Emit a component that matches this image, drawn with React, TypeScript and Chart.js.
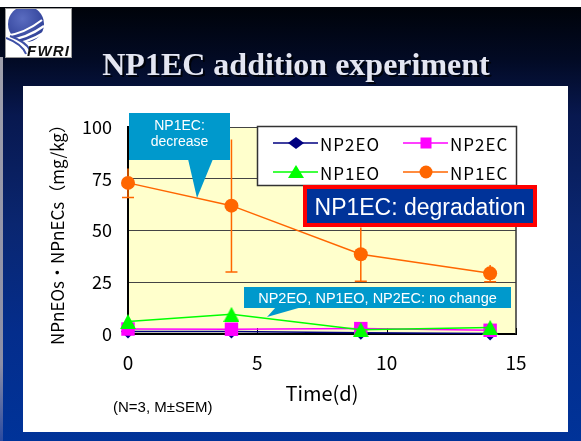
import React, { useEffect, useRef } from "react";
import { Chart, registerables } from "chart.js";

Chart.register(...registerables);

// ---- data ----
const days = [0, 4, 9, 14];
const np2eo = [1.2, 1.2, 0.6, 0.2];
const np2ec = [2.4, 2.3, 2.6, 1.8];
const np1eo = [6.0, 9.5, 2.1, 3.2];
const np1ec = [73, 62, 38.5, 29.3];
const np1ecSem = [7, 32, 13, 4];
const xTicks = [0, 5, 10, 15];
const yTicks = [0, 25, 50, 75, 100];

const seriesNames = ["NP2EO", "NP2EC", "NP1EO", "NP1EC"];
const seriesColors = ["#000080", "#FF00FF", "#00FF00", "#FF6600"];
const seriesMarkers = ["diamond", "square", "triangle", "circle"];

const titleText = "NP1EC addition experiment";
const yTitle = "NPnEOs・NPnECs（mg/kg）";
const xTitle = "Time(d)";
const note = "(N=3, M±SEM)";
const callout1 = ["NP1EC:", "decrease"];
const callout2 = "NP2EO, NP1EO, NP2EC: no change";
const boxText = "NP1EC: degradation";

const JP = "'Noto Sans CJK JP', 'Noto Sans', sans-serif";
const ARIAL = "'Liberation Sans', Arial, sans-serif";

const slidePlugin = {
  id: "slideDecor",
  beforeDraw(chart: any) {
    const { ctx, chartArea: a } = chart;
    ctx.save();
    ctx.fillStyle = "#FFFFCC";
    ctx.fillRect(a.left, a.top, a.right - a.left, a.bottom - a.top);
    ctx.restore();
  },
  beforeDatasetsDraw(chart: any) {
    const { ctx, chartArea: a, scales } = chart;
    const x = scales.x;
    const y = scales.y;
    ctx.save();
    // right border
    ctx.strokeStyle = "#333";
    ctx.lineWidth = 1.5;
    ctx.beginPath();
    ctx.moveTo(a.right, a.top);
    ctx.lineTo(a.right, a.bottom);
    ctx.stroke();
    // inner tick marks on x axis
    ctx.strokeStyle = "#000";
    ctx.lineWidth = 1;
    ctx.beginPath();
    xTicks.forEach((v) => {
      const px = Math.round(x.getPixelForValue(v)) + 0.5;
      ctx.moveTo(px, a.bottom);
      ctx.lineTo(px, a.bottom - 6);
    });
    ctx.stroke();
    // error bars for NP1EC
    ctx.strokeStyle = "#FF6600";
    ctx.lineWidth = 1.5;
    ctx.beginPath();
    days.forEach((d, i) => {
      const px = x.getPixelForValue(d);
      const top = y.getPixelForValue(np1ec[i] + np1ecSem[i]);
      const bot = y.getPixelForValue(np1ec[i] - np1ecSem[i]);
      ctx.moveTo(px, top);
      ctx.lineTo(px, bot);
      ctx.moveTo(px - 6, bot);
      ctx.lineTo(px + 6, bot);
    });
    ctx.stroke();
    ctx.restore();
  },
};

function LegendMarker({ kind, cx, cy, color }: { kind: string; cx: number; cy: number; color: string }) {
  if (kind === "diamond")
    return <polygon points={`${cx - 8},${cy} ${cx},${cy - 6} ${cx + 8},${cy} ${cx},${cy + 6}`} fill={color} />;
  if (kind === "square") return <rect x={cx - 5.5} y={cy - 5.5} width={11} height={11} fill={color} />;
  if (kind === "triangle")
    return <polygon points={`${cx},${cy - 7} ${cx + 8},${cy + 6} ${cx - 8},${cy + 6}`} fill={color} />;
  return <circle cx={cx} cy={cy} r={6.5} fill={color} />;
}

export default function App() {
  const ref = useRef<HTMLCanvasElement>(null);

  useEffect(() => {
    document.body.style.margin = "0";
    const canvas = ref.current!;
    const tri = document.createElement("canvas");
    tri.width = 16;
    tri.height = 15;
    const tctx = tri.getContext("2d")!;
    tctx.fillStyle = "#00FF00";
    tctx.beginPath();
    tctx.moveTo(8, 0);
    tctx.lineTo(16, 15);
    tctx.lineTo(0, 15);
    tctx.closePath();
    tctx.fill();

    const pts = (arr: number[]) => days.map((d, i) => ({ x: d, y: arr[i] }));
    const values = [np2eo, np2ec, np1eo, np1ec];
    const styles: any[] = ["rectRot", "rect", tri, "circle"];
    const radii = [7, 9.5, 8, 7];
    const orders = [2, 1, 0, 3];

    const chart = new Chart(canvas, {
      type: "line",
      data: {
        datasets: seriesNames.map((name, i) => ({
          label: name,
          data: pts(values[i]),
          borderColor: seriesColors[i],
          backgroundColor: seriesColors[i],
          pointBackgroundColor: seriesColors[i],
          pointBorderColor: seriesColors[i],
          pointBorderWidth: 0,
          pointStyle: styles[i],
          pointRadius: radii[i],
          borderWidth: 1.5,
          tension: 0,
          fill: false,
          order: orders[i],
          clip: false as any,
        })),
      },
      options: {
        animation: false,
        responsive: false,
        events: [],
        layout: { padding: { top: 127, right: 65, bottom: 0, left: 0 } },
        plugins: { legend: { display: false }, tooltip: { enabled: false } },
        scales: {
          x: {
            type: "linear",
            min: 0,
            max: 15,
            afterFit: (s: any) => {
              s.height = 107;
            },
            afterBuildTicks: (s: any) => {
              s.ticks = xTicks.map((v) => ({ value: v }));
            },
            ticks: { padding: 17, color: "#000", font: { family: JP, size: 19 } },
            grid: { display: true, drawOnChartArea: false, drawTicks: false },
            border: { display: true, color: "#000", width: 2 },
            title: {
              display: true,
              text: xTitle,
              color: "#000",
              font: { family: JP, size: 20 },
              padding: { top: 0, bottom: 36 },
            },
          },
          y: {
            type: "linear",
            min: 0,
            max: 100,
            afterFit: (s: any) => {
              s.width = 128;
            },
            afterBuildTicks: (s: any) => {
              s.ticks = yTicks.map((v) => ({ value: v }));
            },
            ticks: { padding: 16, color: "#000", font: { family: JP, size: 18 } },
            grid: { display: true, drawOnChartArea: true, drawTicks: false, color: "#444", lineWidth: 1 },
            border: { display: true, color: "#000", width: 2 },
            title: {
              display: true,
              text: yTitle,
              color: "#000",
              font: { family: JP, size: 17 },
              padding: { top: 47, bottom: 0 },
            },
          },
        },
      } as any,
      plugins: [slidePlugin],
    });
    return () => chart.destroy();
  }, []);

  return (
    <div
      style={{
        position: "fixed",
        left: 0,
        top: 0,
        width: 581,
        height: 441,
        overflow: "hidden",
        background: "#fff",
      }}
    >
      <div
        style={{
          position: "absolute",
          left: 0,
          top: 7,
          width: 581,
          height: 434,
          background:
            "linear-gradient(to bottom, #00030a 0%, #020a24 12%, #08184f 25%, #0a2670 50%, #042d8c 75%, #003399 100%)",
        }}
      />
      <div
        style={{
          position: "absolute",
          left: 0,
          top: 57,
          width: 3,
          height: 384,
          background: "linear-gradient(to bottom, #a0a0ac 0%, #8c8ea6 80%, #2a4aa0 100%)",
        }}
      />
      <div
        style={{ position: "absolute", left: 23, top: 86, width: 545, height: 346, background: "#fff" }}
      />
      <canvas
        ref={ref}
        width={581}
        height={441}
        style={{ position: "absolute", left: 0, top: 0, width: 581, height: 441 }}
      />
      <svg
        width={581}
        height={441}
        style={{ position: "absolute", left: 0, top: 0, pointerEvents: "none" }}
      >
        <defs>
          <clipPath id="logoClip">
            <rect x={6} y={9} width={65} height={48} />
          </clipPath>
          <radialGradient id="logoGrad" cx="0.4" cy="0.35" r="0.7">
            <stop offset="0" stopColor="#5a6cc0" />
            <stop offset="1" stopColor="#2e3f96" />
          </radialGradient>
        </defs>
        {/* logo */}
        <rect x={5.5} y={8.5} width={66} height={49} fill="#fff" stroke="#9a9a9a" />
        <g clipPath="url(#logoClip)">
          <circle cx={26} cy={24} r={18} fill="url(#logoGrad)" />
          <path d="M4 36 Q 24 34 42 20" stroke="#fff" strokeWidth={2.2} fill="none" />
          <path d="M4 41 Q 26 39 44 26" stroke="#fff" strokeWidth={2.2} fill="none" />
          <path d="M4 46 Q 26 44 45 32" stroke="#fff" strokeWidth={2.2} fill="none" />
          <path d="M6 38 Q 22 44 26 54" stroke="#3d4fa6" strokeWidth={2} fill="none" />
          <path d="M10 36 Q 26 42 30 50" stroke="#3d4fa6" strokeWidth={2} fill="none" />
        </g>
        <text
          x={27}
          y={56}
          fontFamily={ARIAL}
          fontSize={15}
          fontWeight="bold"
          fontStyle="italic"
          fill="#111"
          textLength={42}
        >
          FWRI
        </text>

        {/* title */}
        <text
          x={298}
          y={77}
          textAnchor="middle"
          fontFamily="'Liberation Serif', 'Times New Roman', serif"
          fontWeight="bold"
          fontSize={32}
          fill="#000"
          opacity={0.75}
        >
          {titleText}
        </text>
        <text
          x={296}
          y={75}
          textAnchor="middle"
          fontFamily="'Liberation Serif', 'Times New Roman', serif"
          fontWeight="bold"
          fontSize={32}
          fill="#E4E6F2"
        >
          {titleText}
        </text>

        {/* legend */}
        <rect x={257.5} y={126.5} width={259} height={59} fill="#fff" stroke="#333" strokeWidth={1.5} />
        {seriesNames.map((name, i) => {
          const col = i % 2;
          const row = Math.floor(i / 2);
          const x0 = col === 0 ? 273 : 403;
          const cy = row === 0 ? 143 : 172;
          return (
            <g key={name}>
              <line x1={x0} y1={cy} x2={x0 + 45} y2={cy} stroke={seriesColors[i]} strokeWidth={1.5} />
              <LegendMarker kind={seriesMarkers[i]} cx={x0 + 23} cy={cy} color={seriesColors[i]} />
              <text
                x={x0 + 47}
                y={cy}
                dominantBaseline="central"
                fontFamily={JP}
                fontSize={17}
                letterSpacing={1}
                fill="#000"
              >
                {name}
              </text>
            </g>
          );
        })}

        {/* degradation box */}
        <rect x={305} y={187} width={230} height={38} fill="#003399" stroke="#FF0000" strokeWidth={4} />
        <text
          x={420}
          y={207}
          textAnchor="middle"
          dominantBaseline="central"
          fontFamily={ARIAL}
          fontSize={23}
          fill="#fff"
        >
          {boxText}
        </text>

        {/* callout 1 */}
        <rect x={129} y={113} width={101} height={47} fill="#0099CC" />
        <polygon points="188,159 213,159 197,198" fill="#0099CC" />
        <text
          x={179.5}
          y={125}
          textAnchor="middle"
          dominantBaseline="central"
          fontFamily={ARIAL}
          fontSize={14}
          fill="#fff"
        >
          {callout1[0]}
        </text>
        <text
          x={179.5}
          y={141}
          textAnchor="middle"
          dominantBaseline="central"
          fontFamily={ARIAL}
          fontSize={14}
          fill="#fff"
        >
          {callout1[1]}
        </text>

        {/* callout 2 */}
        <rect x={244} y={287} width={267} height={21} fill="#0099CC" />
        <polygon points="276,307 302,307 267,317" fill="#0099CC" />
        <text
          x={377.5}
          y={297.5}
          textAnchor="middle"
          dominantBaseline="central"
          fontFamily={ARIAL}
          fontSize={14.5}
          fill="#fff"
        >
          {callout2}
        </text>

        {/* note */}
        <text x={113} y={406} dominantBaseline="central" fontFamily={ARIAL} fontSize={15} fill="#000">
          {note}
        </text>
      </svg>
    </div>
  );
}
